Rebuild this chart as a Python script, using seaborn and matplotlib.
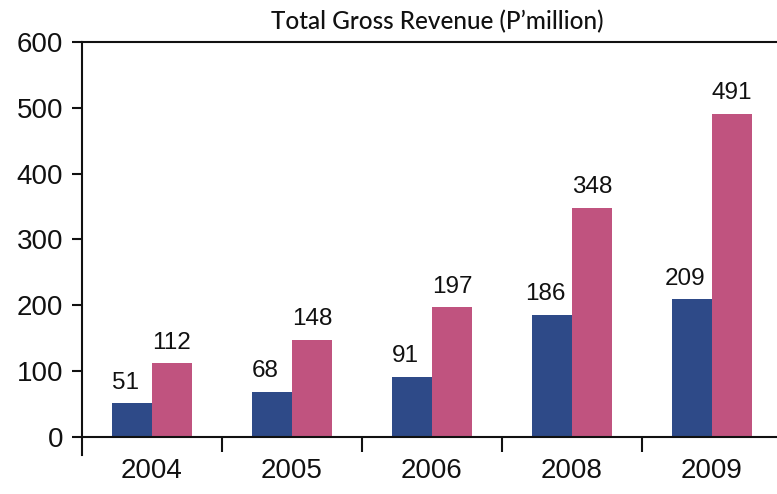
import matplotlib
matplotlib.use("Agg")
import matplotlib.pyplot as plt
import seaborn as sns
import pandas as pd

# Revenue data (P'million)
years = ["2004", "2005", "2006", "2008", "2009"]
series_a = [51, 68, 91, 186, 209]
series_b = [112, 148, 197, 348, 491]
series_names = ["A", "B"]
bar_colors = ["#2e4a88", "#c0537f"]
y_ticks = [0, 100, 200, 300, 400, 500, 600]
title = "Total Gross Revenue (P\u2019million)"

df = pd.DataFrame({
    "year": years * 2,
    "value": series_a + series_b,
    "series": [series_names[0]] * len(years) + [series_names[1]] * len(years),
})

sns.set_theme(style="white")
plt.rcParams["font.family"] = ["Liberation Sans", "DejaVu Sans"]

fig = plt.figure(figsize=(7.77, 4.94), dpi=100)
ax = fig.add_axes([82 / 777, 1 - 455.4 / 494, 700 / 777, (455.4 - 42) / 494])

sns.barplot(data=df, x="year", y="value", hue="series", order=years,
            hue_order=series_names, palette=bar_colors, width=0.57,
            saturation=1, legend=False, ax=ax, linewidth=0)

ax.set_xlim(-0.5, 4.5)
ax.set_ylim(-28, 600)
ax.set_xlabel("")
ax.set_ylabel("")

# spines: left full height, bottom at zero, thin rule along the top
for side in ["left", "bottom", "top"]:
    ax.spines[side].set_visible(True)
    ax.spines[side].set_color("#111111")
    ax.spines[side].set_linewidth(1.5)
ax.spines["right"].set_visible(False)
ax.spines["bottom"].set_position(("data", 0))

ax.set_yticks(y_ticks)
ax.set_yticklabels([str(v) for v in y_ticks])
ax.tick_params(axis="y", direction="out", length=7.5, width=1.5,
               color="#111111", labelsize=20, pad=6, left=True)

# year labels at group centres, tick marks between groups
ax.set_xticks(range(len(years)))
ax.set_xticklabels(years)
ax.tick_params(axis="x", which="major", length=0, labelsize=20, pad=15)
ax.set_xticks([i + 0.5 for i in range(len(years) - 1)], minor=True)
ax.tick_params(axis="x", which="minor", direction="out", length=11,
               width=1.5, color="#111111", bottom=True)

for lbl in ax.get_xticklabels() + ax.get_yticklabels():
    lbl.set_color("#111111")

# value labels above the bars
for i, cont in enumerate(ax.containers):
    texts = ax.bar_label(cont, fmt="%d", padding=7, fontsize=17.5,
                         color="#111111")
    if i == 0:
        for t in texts:
            t.xyann = (-5, t.xyann[1])

fig.text(437 / 777, 1 - 22 / 494, title, ha="center", va="center",
         fontsize=17.5, family=["Lato", "DejaVu Sans"], fontweight="medium",
         color="#111111")

fig.savefig("out.png", dpi=100)
